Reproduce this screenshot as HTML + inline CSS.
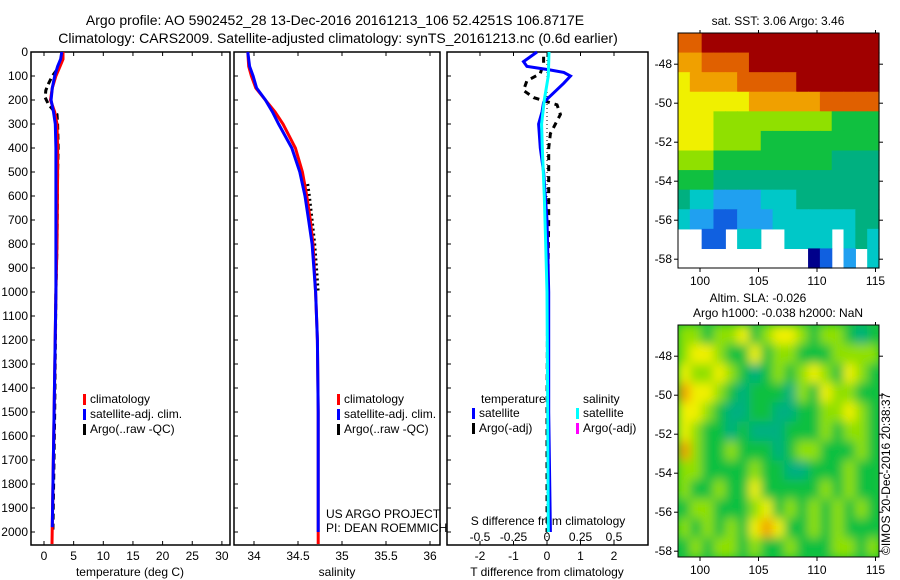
<!DOCTYPE html>
<html><head><meta charset="utf-8"><style>
body{margin:0;background:#fff;}
svg{display:block;font-family:"Liberation Sans",sans-serif;}
</style></head><body>
<svg id="fig" width="900" height="580" viewBox="0 0 900 580">
<defs>
<filter id="blur" x="-5%" y="-5%" width="110%" height="110%"><feGaussianBlur stdDeviation="5"/></filter>
<clipPath id="slaclip"><rect x="678" y="325" width="201" height="232"/></clipPath>
</defs>
<text x="335" y="25" font-size="14" text-anchor="middle">Argo profile: AO 5902452_28 13-Dec-2016 20161213_106 52.4251S 106.8717E</text>
<text x="338" y="43" font-size="14" text-anchor="middle">Climatology: CARS2009. Satellite-adjusted climatology: synTS_20161213.nc (0.6d earlier)</text>
<g id="g"></g>
</svg>
<script>
// ---- data ----
const depthTicks=[0,100,200,300,400,500,600,700,800,900,1000,1100,1200,1300,1400,1500,1600,1700,1800,1900,2000];
const tempTicks=[0,5,10,15,20,25,30];
const salTicks=[34,34.5,35,35.5,36];
const tdiffTicks=[-2,-1,0,1,2];
const sdiffTicks=[-0.5,-0.25,0,0.25,0.5];
const latTicks=[-48,-50,-52,-54,-56,-58];
const lonTicks=[100,105,110,115];

const tClimDepth=[0,30,60,100,150,200,250,300,400,500,800,1000,1500,2050];
const tClimVal=[3.2,3.2,2.7,2.0,1.4,1.1,1.8,2.2,2.3,2.3,2.2,2.0,1.7,1.35];
const tSatDepth=[0,30,60,100,150,200,250,300,400,500,800,1000,1500,1980];
const tSatVal=[3.0,2.8,2.3,1.8,1.4,1.2,1.6,1.9,2.0,2.0,2.0,2.0,1.7,1.4];
const tArgoDepth=[0,40,80,100,130,160,190,220,260,300,400,500,800,1000,1500,2000];
const tArgoVal=[3.2,3.0,2.0,1.4,0.8,0.3,0.2,0.8,2.2,2.3,2.4,2.3,2.2,2.0,1.8,1.5];

const sClimDepth=[0,60,100,150,200,250,300,400,500,600,700,800,1000,1200,1500,2050];
const sClimVal=[33.93,33.94,33.97,34.02,34.13,34.24,34.33,34.47,34.55,34.60,34.64,34.67,34.70,34.72,34.73,34.73];
const sSatDepth=[0,60,100,150,200,250,300,400,500,600,700,800,1000,1200,1500,2000];
const sSatVal=[33.93,33.95,33.99,34.03,34.13,34.21,34.28,34.43,34.52,34.58,34.62,34.66,34.70,34.72,34.73,34.73];
const sArgoDepth=[550,600,700,800,900,1000];
const sArgoVal=[34.61,34.63,34.66,34.69,34.71,34.73];

const dTDepth=[0,40,60,75,85,100,130,170,210,250,300,400,500,700,1000,1500,2000];
const dTVal=[-0.3,-0.7,-0.6,0.1,0.5,0.7,0.5,0.2,-0.1,-0.15,-0.25,-0.2,-0.1,0,0.05,0.05,0.1];
const dSDepth=[0,100,200,300,400,600,800,1000,1500,2000];
const dSVal=[0.015,0.01,-0.02,-0.04,-0.035,-0.02,-0.01,0,0.005,0.01];
const dTArgoDepth=[20,45,90,120,160,190,220,260,300,340,400,500,700,1000,1500,2000];
const dTArgoVal=[-0.1,-0.1,-0.2,-0.6,-0.7,-0.4,0.3,0.4,0.25,0.1,0.05,0.05,0.05,0.02,0,0];

const sstRows=["99aaaaaaaaaaaaaaa","889999aaaaaaaaaaa","7888899999aaaaaaa","77777788888899999","77766666666665555","77766665555555555","66655555555554444","55544444444444444","43322223334444444","32211222333333344","..11.33..3333.343","...........01.2.3"];
const slaRows=["66566756776566545","67765575665556666","76676545656765765","87765455546576655","77654455445566765","76554544455565665","86556555456655565","66555565544555655","65565575555565655","56655567565656565","65656578755656555","56566565565556656"];
const palette={"0":"#00008b","1":"#1060e0","2":"#20a0f0","3":"#00c8c8","4":"#00b080","5":"#10c040","6":"#90e000","7":"#f0f000","8":"#f0a000","9":"#e06000","a":"#a00000"};

// ---- drawing ----
const NS="http://www.w3.org/2000/svg";
const G=document.getElementById('g');
function el(tag,attrs,parent){const e=document.createElementNS(NS,tag);for(const k in attrs)e.setAttribute(k,attrs[k]);(parent||G).appendChild(e);return e;}
function txt(x,y,s,size,anchor,name){const t=el('text',{x:x,y:y,'font-size':size,'text-anchor':anchor||'start'});t.textContent=s;


return t;}
const Y=d=>52+0.24*d;
const xT=v=>44+5.93*v, xS=v=>254+88*(v-34), xDT=v=>547+33.5*v, xDS=v=>547+134*v;
const panels=[[31,230,'temperature-panel'],[234,440,'salinity-panel'],[447,648,'difference-panel']];
panels.forEach(p=>{const r=el('rect',{x:p[0],y:52,width:p[1]-p[0],height:493,fill:'none',stroke:'#000','stroke-width':1.5});


depthTicks.forEach(d=>el('line',{x1:p[0],x2:p[0]+4,y1:Y(d),y2:Y(d),stroke:'#000'}));});
depthTicks.forEach(d=>txt(28,Y(d)+4,String(d),12,'end','depth-tick-label'));
tempTicks.forEach(v=>{el('line',{x1:xT(v),x2:xT(v),y1:52,y2:56,stroke:'#000'});el('line',{x1:xT(v),x2:xT(v),y1:545,y2:541,stroke:'#000'});txt(xT(v),560,String(v),12,'middle','temp-tick-label');});
salTicks.forEach(v=>{el('line',{x1:xS(v),x2:xS(v),y1:52,y2:56,stroke:'#000'});el('line',{x1:xS(v),x2:xS(v),y1:545,y2:541,stroke:'#000'});txt(xS(v),560,String(v),12,'middle','sal-tick-label');});
tdiffTicks.forEach(v=>{el('line',{x1:xDT(v),x2:xDT(v),y1:52,y2:56,stroke:'#000'});el('line',{x1:xDT(v),x2:xDT(v),y1:545,y2:541,stroke:'#000'});txt(xDT(v),560,String(v),12,'middle','tdiff-tick-label');});
sdiffTicks.forEach(v=>txt(xDS(v),541,String(v),12,'middle','sdiff-tick-label'));
txt(130,576,'temperature (deg C)',12,'middle','temp-axis-title');
txt(337,576,'salinity',12,'middle','sal-axis-title');
txt(547,576,'T difference from climatology',12,'middle','tdiff-axis-title');
txt(548,525,'S difference from climatology',12,'middle','sdiff-axis-title');
txt(326,518,'US ARGO PROJECT',12,'start','project-label');
txt(326,532,'PI: DEAN ROEMMICH',12,'start','pi-label');

function line(ds,vs,fx,color,w,dash,name){const pts=ds.map((d,i)=>fx(vs[i]).toFixed(1)+','+Y(d).toFixed(1)).join(' ');
const l=el('polyline',{points:pts,fill:'none',stroke:color,'stroke-width':w});if(dash)l.setAttribute('stroke-dasharray',dash);

}
line(tArgoDepth,tArgoVal,xT,'#000',3,'6,4','temp-argo-line');
line(tClimDepth,tClimVal,xT,'#f00',3,null,'temp-climatology-line');
line(tSatDepth,tSatVal,xT,'#00f',3,null,'temp-satellite-line');
line(sArgoDepth,sArgoVal,xS,'#000',3,'2,3','sal-argo-line');
line(sClimDepth,sClimVal,xS,'#f00',3,null,'sal-climatology-line');
line(sSatDepth,sSatVal,xS,'#00f',3,null,'sal-satellite-line');
el('line',{x1:xDT(0),x2:xDT(0),y1:52,y2:545,stroke:'#000','stroke-dasharray':'1,3'});
line(dTArgoDepth,dTArgoVal,xDT,'#000',3,'6,5','tdiff-argo-line');
line(dTDepth,dTVal,xDT,'#00f',3,null,'tdiff-satellite-line');
line(dSDepth,dSVal,xDS,'#0ff',3,null,'sdiff-satellite-line');

function legend(x,y,items,pfx){items.forEach((it,i)=>{el('rect',{x:x,y:y+i*15-9,width:3,height:11,fill:it[0]});txt(x+7,y+i*15,it[1],12,'start',pfx+'-legend-entry');});}
legend(83,403,[['#f00','climatology'],['#00f','satellite-adj. clim.'],['#000','Argo(..raw -QC)']],'temp');
legend(337,403,[['#f00','climatology'],['#00f','satellite-adj. clim.'],['#000','Argo(..raw -QC)']],'sal');
txt(481,403,'temperature',12,'start','tdiff-legend-title');
txt(583,403,'salinity',12,'start','sdiff-legend-title');
legend(472,417,[['#00f','satellite'],['#000','Argo(-adj)']],'tdiff');
legend(576,417,[['#0ff','satellite'],['#f0f','Argo(-adj)']],'sdiff');

// maps
const latY0=(lat,top)=>top+( -46.4-lat)*19.5;
const lonX=lon=>700+11.7*(lon-100);
function map(rows,top,h,name,smooth){const g=el('g',{});

let cg=g;
if(smooth){const outer=el('g',{'clip-path':'url(#slaclip)'},g);el('rect',{x:678,y:top,width:201,height:h,fill:'#10c040'},outer);cg=el('g',{filter:'url(#blur)'},outer);}
const nr=rows.length,nc=rows[0].length,cw=201/nc,ch=h/nr;
rows.forEach((r,i)=>{for(let j=0;j<nc;j++){const c=r[j];if(c==='.')continue;el('rect',{x:(678+j*cw).toFixed(2),y:(top+i*ch).toFixed(2),width:(cw+0.6).toFixed(2),height:(ch+0.6).toFixed(2),fill:palette[c]},cg);}});
el('rect',{x:678,y:top,width:201,height:h,fill:'none',stroke:'#000','stroke-width':1},g);
latTicks.forEach(l=>{const y=latY0(l,top);el('line',{x1:674,x2:678,y1:y,y2:y,stroke:'#000'});el('line',{x1:879,x2:883,y1:y,y2:y,stroke:'#000'});txt(672,y+4,String(l),12,'end','lat-tick-label');});
lonTicks.forEach(l=>{const x=lonX(l);el('line',{x1:x,x2:x,y1:top+h,y2:top+h+4,stroke:'#000'});el('line',{x1:x,x2:x,y1:top,y2:top-3,stroke:'#000'});txt(x,top+h+17,String(l),12,'middle','lon-tick-label');});}
map(sstRows,33,235,'sst-map',false);
map(slaRows,325,232,'sla-map',true);
txt(778,25,'sat. SST: 3.06 Argo: 3.46',12,'middle','sst-map-title');
txt(758,302,'Altim. SLA: -0.026',12,'middle','sla-map-title');
txt(778,317,'Argo h1000: -0.038 h2000: NaN',12,'middle','sla-map-subtitle');
const c=txt(0,0,'©IMOS 20-Dec-2016 20:38:37',12,'start','imos-credit');c.setAttribute('transform','translate(890,555) rotate(-90)');
</script>
</body></html>
